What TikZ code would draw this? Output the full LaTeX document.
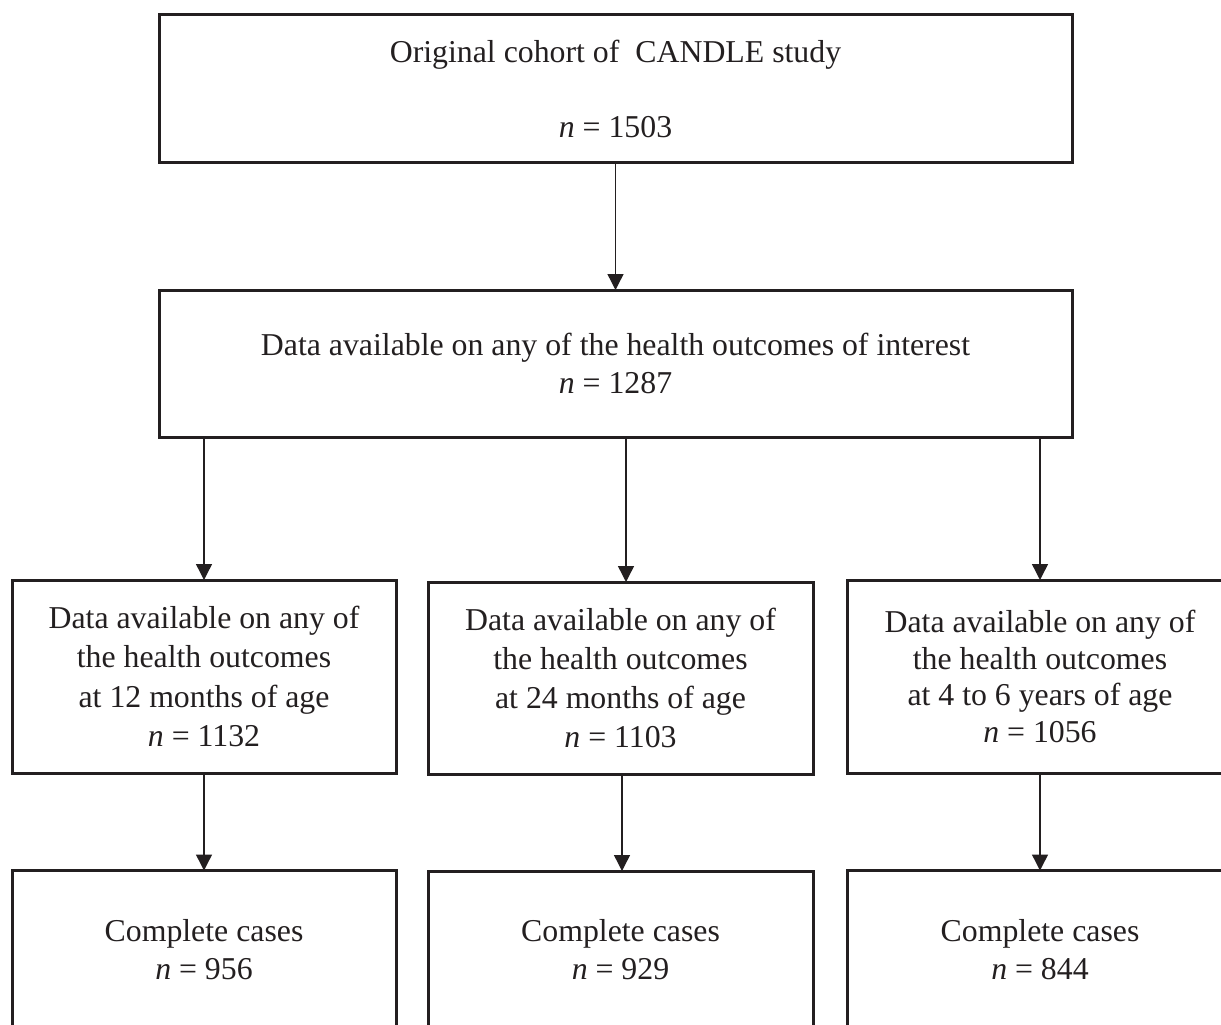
\documentclass[tikz,border=0pt]{standalone}
\usepackage{fontspec}
\setmainfont{Liberation Serif}
\usetikzlibrary{arrows.meta}
\definecolor{ink}{HTML}{231F20}
\begin{document}
\begin{tikzpicture}[x=1pt,y=-1pt,
  box/.style={draw=ink, line width=3pt, text=ink, align=center, inner sep=0pt, outer sep=0pt,
    font=\fontsize{31.8}{38}\selectfont},
  arr/.style={draw=ink, line width=1.4pt, -{Triangle[length=16pt,width=16pt]}}]
\clip (0,0) rectangle (1221,1025);
\fill[white] (0,0) rectangle (1221,1025);
\node[box, minimum width=913pt, minimum height=147pt] (top) at (615.5,88.5)
  {Original cohort of~ CANDLE study\\[37pt]\textit{n} = 1503};
\node[box, minimum width=913pt, minimum height=147pt] (b2) at (615.5,363.5)
  {Data available on any of the health outcomes of interest\\\textit{n} = 1287};
\node[box, minimum width=384pt, minimum height=193pt, font=\fontsize{31.8}{39.5}\selectfont] (l3) at (204,676.5)
  {Data available on any of\\the health outcomes\\at 12 months of age\\\textit{n} = 1132};
\node[box, minimum width=385pt, minimum height=192pt, font=\fontsize{31.8}{39}\selectfont] (m3) at (620.5,678)
  {Data available on any of\\the health outcomes\\at 24 months of age\\\textit{n} = 1103};
\node[box, minimum width=386pt, minimum height=193pt, font=\fontsize{31.8}{36.5}\selectfont] (r3) at (1040,676.5)
  {Data available on any of\\the health outcomes\\at 4 to 6 years of age\\\textit{n} = 1056};
\node[box, minimum width=384pt, minimum height=158pt] (l4) at (204,949.5)
  {Complete cases\\\textit{n} = 956};
\node[box, minimum width=385pt, minimum height=158pt] (m4) at (620.5,950)
  {Complete cases\\\textit{n} = 929};
\node[box, minimum width=386pt, minimum height=158pt] (r4) at (1040,949.5)
  {Complete cases\\\textit{n} = 844};
\draw[arr] (top) -- (b2);
\draw[arr] (b2.south -| l3.north) -- (l3.north);
\draw[arr] ([xshift=5.5pt]b2.south -| m3.north) -- ([xshift=5.5pt]m3.north);
\draw[arr] (b2.south -| r3.north) -- (r3.north);
\draw[arr] (l3) -- (l4);
\draw[arr] ([xshift=1.5pt]m3.south) -- ([xshift=1.5pt]m4.north);
\draw[arr] (r3) -- (r4);
\end{tikzpicture}
\end{document}
